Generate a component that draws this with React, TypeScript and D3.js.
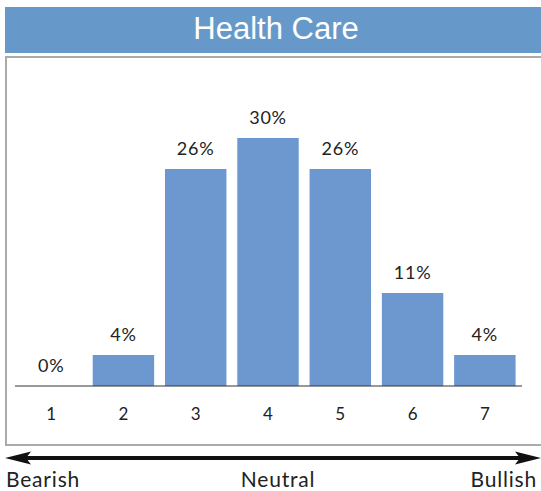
import React from "react";
import * as d3 from "d3";

const title = "Health Care";
const categories = ["1", "2", "3", "4", "5", "6", "7"];
const counts = [0, 1, 7, 8, 7, 3, 1];
const total = 27;
const valueLabels = ["0%", "4%", "26%", "30%", "26%", "11%", "4%"];
const scaleLabels = ["Bearish", "Neutral", "Bullish"];

const W = 541;
const H = 491;
const font = "'Century Gothic', 'Lato', 'Noto Sans', sans-serif";

export default function App() {
  const x = d3
    .scaleBand<string>()
    .domain(categories)
    .range([15, 521])
    .paddingInner(0.15)
    .paddingOuter(0.075);
  const y = d3.scaleLinear().domain([0, 8 / total]).range([386, 138]);
  const data = categories.map((c, i) => ({ c, v: counts[i] / total, label: valueLabels[i] }));

  const ay = 458;
  return (
    <svg
      width={W}
      height={H}
      style={{ position: "absolute", left: 0, top: 0, display: "block" }}
    >
      <rect x={0} y={0} width={W} height={H} fill="#fff" />
      <rect x={5} y={7} width={W - 5} height={46} fill="#6699c9" />
      <text
        x={276}
        y={39}
        textAnchor="middle"
        fill="#fff"
        fontFamily="'Liberation Sans', Arial, sans-serif"
        fontSize={31}
      >
        {title}
      </text>
      <rect x={6} y={57} width={W + 10} height={388} fill="none" stroke="#aaa" strokeWidth={2} />
      {data.map((d) => (
        <rect
          key={d.c}
          x={x(d.c)}
          y={y(d.v)}
          width={x.bandwidth()}
          height={386 - y(d.v)}
          fill="#6d97cf"
        />
      ))}
      <line x1={15} x2={522} y1={386} y2={386} stroke="#333" strokeWidth={1} />
      {data.map((d) => (
        <text
          key={"l" + d.c}
          x={(x(d.c) ?? 0) + x.bandwidth() / 2}
          y={y(d.v) - 14}
          textAnchor="middle"
          fontFamily={font}
          fontSize={18}
          fontWeight={400}
          letterSpacing={0.8}
          fill="#222"
        >
          {d.label}
        </text>
      ))}
      {categories.map((c) => (
        <text
          key={"c" + c}
          x={(x(c) ?? 0) + x.bandwidth() / 2}
          y={420}
          textAnchor="middle"
          fontFamily={font}
          fontSize={17}
          fontWeight={400}
          fill="#222"
        >
          {c}
        </text>
      ))}
      <line x1={20} x2={522} y1={ay} y2={ay} stroke="#111" strokeWidth={4} />
      <path d={`M5,${ay} L31,${ay - 6.5} L26,${ay} L31,${ay + 6.5} Z`} fill="#111" />
      <path d={`M541,${ay} L515,${ay - 6.5} L520,${ay} L515,${ay + 6.5} Z`} fill="#111" />
      <text x={6} y={487} fontFamily={font} fontSize={21} fontWeight={400} letterSpacing={0.8} fill="#222">
        {scaleLabels[0]}
      </text>
      <text x={278} y={487} textAnchor="middle" fontFamily={font} fontSize={21} fontWeight={400} letterSpacing={0.8} fill="#222">
        {scaleLabels[1]}
      </text>
      <text x={537} y={487} textAnchor="end" fontFamily={font} fontSize={21} fontWeight={400} letterSpacing={0.8} fill="#222">
        {scaleLabels[2]}
      </text>
    </svg>
  );
}
